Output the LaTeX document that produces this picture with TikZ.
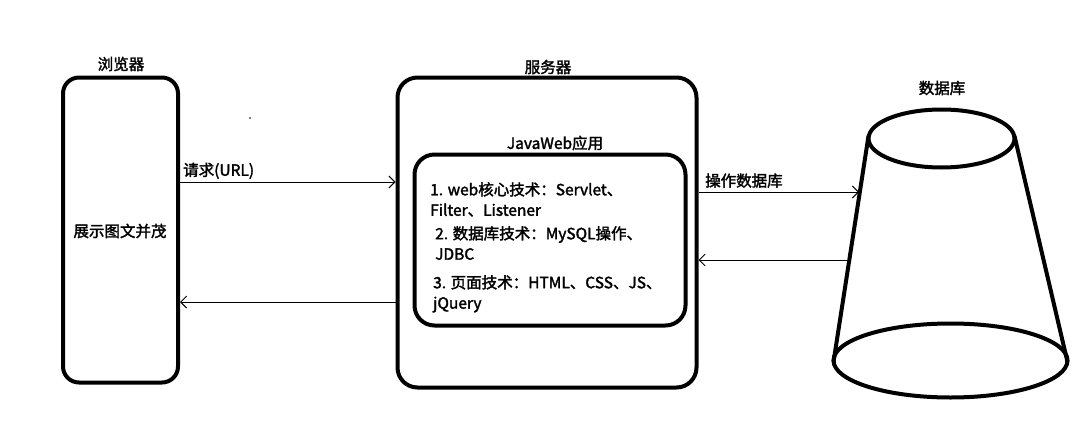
\documentclass[tikz,border=0pt]{standalone}
\usepackage{fontspec}
\setmainfont{Noto Sans CJK SC}[AutoFakeBold=2]
\usetikzlibrary{arrows.meta}
\begin{document}
\begin{tikzpicture}[x=1pt,y=-1pt,
  box/.style={draw, line width=4pt, rounded corners=16pt, inner sep=0pt},
  lbl/.style={font=\fontsize{15.5}{17}\selectfont\bfseries, inner sep=0pt},
  item/.style={font=\fontsize{15.5}{20.5}\selectfont\bfseries, inner sep=0pt, anchor=north west, align=left},
  arr/.style={line width=0.9pt, -{Straight Barb[length=6pt,width=12pt]}},
  dbline/.style={line width=4pt}]
\useasboundingbox (0,0) rectangle (1088,447);
% browser
\node[box, minimum width=115pt, minimum height=305pt] (browser) at (120.5,230) {};
\node[lbl] (browsertxt) at (120,231) {展示图文并茂};
\node[lbl] (browserlbl) at (121,64) {浏览器};
% server
\node[box, rounded corners=20pt, minimum width=299pt, minimum height=310pt] (server) at (547,232.5) {};
\node[lbl] (serverlbl) at (548,67) {服务器};
% inner app
\node[box, rounded corners=20pt, minimum width=271pt, minimum height=171pt] (app) at (550,240) {};
\node[lbl] (applbl) at (555,143) {JavaWeb应用};
\node[item] (i1) at (430,182) {1. web核心技术：Servlet、\\Filter、Listener};
\node[item] (i2) at (435,226) {2. 数据库技术：MySQL操作、\\JDBC};
\node[item] (i3) at (433,275) {3. 页面技术：HTML、CSS、JS、\\jQuery};
% database
\coordinate (dbtop) at (941.5,138.5);
\coordinate (dbbot) at (950.5,360.5);
\draw[dbline] (dbtop) ellipse [x radius=73pt, y radius=29pt];
\draw[dbline] (dbbot) ellipse [x radius=117pt, y radius=37pt];
\coordinate (tl) at (868.5,136);
\coordinate (tr) at (1014.5,136);
\coordinate (bl) at (833.5,362);
\coordinate (br) at (1067.5,362);
\draw[dbline] (tl) -- (bl);
\draw[dbline] (tr) -- (br);
\node[lbl] (dblbl) at (942,88) {数据库};
% connectors
\coordinate (y1) at (0,182);
\coordinate (y2) at (0,302);
\coordinate (dbin) at (859,192);
\coordinate (dbout) at (848,260);
\draw[arr] (browser.east |- y1) -- (server.west |- y1);
\draw[arr] (server.west |- y2) -- (browser.east |- y2);
\draw[arr] (server.east |- dbin) -- (dbin);
\draw[arr] (dbout) -- (server.east |- dbout);
\node[lbl, anchor=south west] (reqlbl) at (183,179) {请求(URL)};
\node[lbl, anchor=south west] (oplbl) at (705,188) {操作数据库};
% stray dot
\fill (250,118) circle (0.8pt);
\end{tikzpicture}
\end{document}
